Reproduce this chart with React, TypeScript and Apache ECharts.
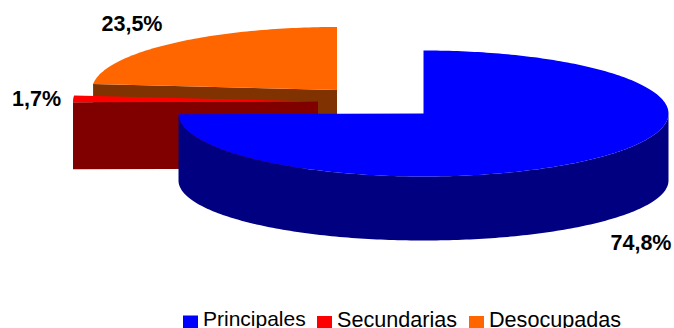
import React, { useEffect, useRef } from "react";
import * as echarts from "echarts";

const categories = ["Principales", "Secundarias", "Desocupadas"];
const shares = [74.8, 1.7, 23.5];
const topColors = ["#0000FF", "#FF0000", "#FF6600"];
const sideColors = ["#000080", "#800000", "#803300"];

// Exploded slice centres and value label anchors, in pixels.
const centres = [[423.5, 113.5], [318, 101.5], [337, 90]];
const labelAnchors = [[641, 243], [36.5, 99], [132, 24]];
const drawOrder = [3, 2, 1];

// Legend entries are placed one by one.
const legendLefts = [183, 317, 469];
const legendFontSizes = [21, 21.6, 21.6];
// Square swatch sitting low in its 15x20 box; the zero-area first subpath holds the box open.
const legendIcon = "path://M0,0L15,0L15,0ZM0,7L15,7L15,20L0,20Z";

const RX = 245;
const RY_TOP = 63;
const RY_BOTTOM = 60;
const DEPTH = 67;
const STEP = 1;

const rad = (deg: number) => (deg * Math.PI) / 180;

const topPoint = (c: number[], a: number) => [
  c[0] + RX * Math.sin(rad(a)),
  c[1] - RY_TOP * Math.cos(rad(a)),
];
const bottomPoint = (c: number[], a: number) => [
  c[0] + RX * Math.sin(rad(a)),
  c[1] + DEPTH - RY_BOTTOM * Math.cos(rad(a)),
];

const arc = (from: number, to: number, at: (a: number) => number[]) => {
  const pts: number[][] = [];
  for (let a = from; a < to; a += STEP) pts.push(at(a));
  pts.push(at(to));
  return pts;
};

const renderSlice = (index: number) => (_params: any, api: any) => {
  const value = api.value(0);
  const total = shares.reduce((s, v) => s + v, 0);
  const before = shares.slice(0, index).reduce((s, v) => s + v, 0);
  const start = (before / total) * 360;
  const end = start + (value / total) * 360;
  const c = centres[index];
  const side = { fill: sideColors[index] };
  const children: any[] = [];

  // Cut wall on the left half faces the viewer.
  if (start > 180) {
    const p = topPoint(c, start);
    const q = bottomPoint(c, start);
    children.push({
      type: "polygon",
      shape: { points: [c, p, q, [c[0], c[1] + DEPTH]] },
      style: side,
    });
  }

  // Outer rim of the front half.
  const rimFrom = Math.max(start, 90);
  const rimTo = Math.min(end, 270);
  if (rimTo > rimFrom) {
    children.push({
      type: "polygon",
      shape: {
        points: [
          ...arc(rimFrom, rimTo, (a) => topPoint(c, a)),
          ...arc(rimFrom, rimTo, (a) => bottomPoint(c, a)).reverse(),
        ],
      },
      style: side,
    });
  }

  children.push({
    type: "polygon",
    shape: { points: [c, ...arc(start, end, (a) => topPoint(c, a))] },
    style: { fill: topColors[index] },
  });

  children.push({
    type: "text",
    x: labelAnchors[index][0],
    y: labelAnchors[index][1],
    style: {
      text: value.toFixed(1).replace(".", ",") + "%",
      fill: "#000000",
      font: 'bold 21.5px "Liberation Sans", Arial, sans-serif',
      align: "center",
      verticalAlign: "middle",
    },
  });

  return { type: "group", children };
};

export default function App() {
  const ref = useRef<HTMLDivElement>(null);

  useEffect(() => {
    document.body.style.margin = "0";
    const chart = echarts.init(ref.current!, undefined, { renderer: "svg" });
    chart.setOption({
      animation: false,
      backgroundColor: "#FFFFFF",
      legend: categories.map((name, i) => ({
        data: [name],
        left: legendLefts[i],
        top: 308,
        padding: 0,
        itemWidth: 15,
        itemHeight: 20,
        icon: legendIcon,
        itemStyle: { borderWidth: 0 },
        selectedMode: false,
        textStyle: {
          fontFamily: '"Liberation Sans", Arial, sans-serif',
          fontSize: legendFontSizes[i],
          color: "#000000",
        },
      })),
      series: categories.map((name, i) => ({
        type: "custom",
        name,
        coordinateSystem: "none",
        z: drawOrder[i],
        itemStyle: { color: topColors[i] },
        data: [[shares[i]]],
        renderItem: renderSlice(i),
      })),
    });
    return () => chart.dispose();
  }, []);

  return <div ref={ref} style={{ width: 674, height: 328, display: "block" }} />;
}
